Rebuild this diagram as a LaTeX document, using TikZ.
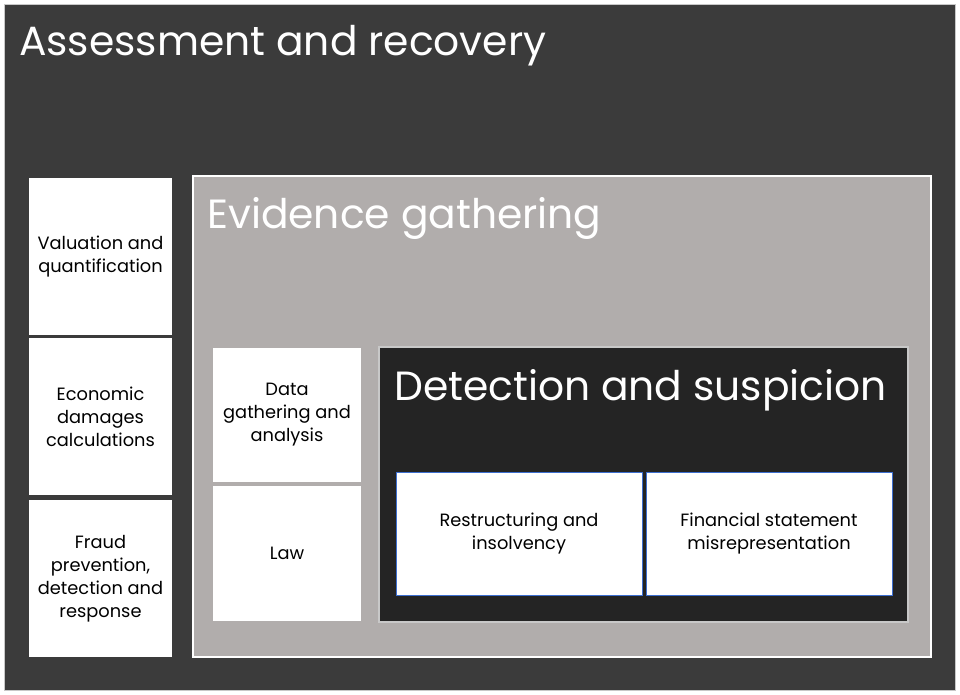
\documentclass[tikz,border=0pt]{standalone}
\usepackage{fontspec}
\setmainfont{Poppins}
\definecolor{outerbg}{HTML}{3B3B3B}
\definecolor{midbg}{HTML}{B1ADAC}
\definecolor{innerbg}{HTML}{242424}
\definecolor{edgegray}{HTML}{C8C8C8}
\definecolor{blueedge}{HTML}{3D6FD0}
\tikzset{
  panel/.style={anchor=north west, inner sep=0pt, outer sep=0pt},
  whitebox/.style={panel, fill=white, draw=none, align=center, font=\fontsize{17.8}{23}\selectfont, text=black},
  bluebox/.style={whitebox, draw=blueedge, line width=1pt},
  titletext/.style={anchor=base west, inner sep=0pt, text=white, font=\fontsize{40.8}{46}\selectfont},
}
\begin{document}
\begin{tikzpicture}[x=1pt,y=-1pt]
\useasboundingbox (0,0) rectangle (960,695);
\fill[white] (0,0) rectangle (960,695);
% outer
\node[panel, fill=outerbg, draw=edgegray, line width=1.2pt, minimum width=951pt, minimum height=686pt] (outer) at (4.5,4.5) {};
\node[titletext] (t1) at (19,56) {Assessment and recovery};
% left column
\node[whitebox, minimum width=143pt, minimum height=157pt] (val) at (29,178) {Valuation and\\quantification};
\node[whitebox, minimum width=143pt, minimum height=157pt] (eco) at (29,338) {Economic\\damages\\calculations};
\node[whitebox, minimum width=143pt, minimum height=157pt] (fraud) at (29,500) {Fraud\\prevention,\\detection and\\response};
% evidence
\node[panel, fill=midbg, draw=white, line width=2pt, minimum width=738pt, minimum height=481pt] (evid) at (193,176) {};
\node[titletext] (t2) at (207,228) {Evidence gathering};
\node[whitebox, minimum width=148pt, minimum height=134pt] (data) at (213,348) {Data\\gathering and\\analysis};
\node[whitebox, minimum width=148pt, minimum height=135pt] (law) at (213,486) {Law};
% detection
\node[panel, fill=innerbg, draw=edgegray, line width=1.5pt, minimum width=529pt, minimum height=275pt] (det) at (379,347) {};
\node[titletext] (t3) at (394,400) {Detection and suspicion};
\node[bluebox, minimum width=246pt, minimum height=123pt] (restr) at (396,472) {Restructuring and\\insolvency};
\node[bluebox, minimum width=246pt, minimum height=123pt] (fin) at (646,472) {Financial statement\\misrepresentation};
\end{tikzpicture}
\end{document}
